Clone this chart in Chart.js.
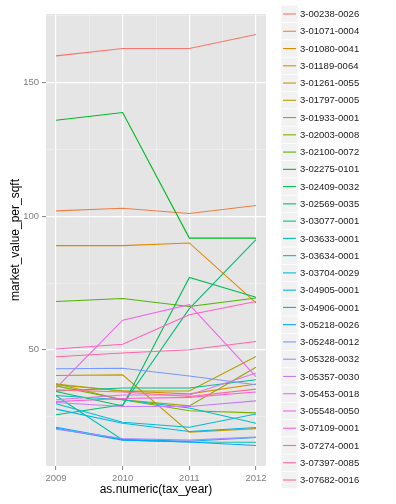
<!DOCTYPE html>
<html><head><meta charset="utf-8">
<script src="https://cdn.jsdelivr.net/npm/chart.js@4/dist/chart.umd.min.js"></script>
<style>html,body{margin:0;padding:0;background:#fff}canvas{display:block}</style>
</head><body>
<canvas id="c" width="396" height="504"></canvas>
<script>
'use strict';
const years = [2009, 2010, 2011, 2012];
const parcels = ['3-00238-0026','3-01071-0004','3-01080-0041','3-01189-0064','3-01261-0055','3-01797-0005',
  '3-01933-0001','3-02003-0008','3-02100-0072','3-02275-0101','3-02409-0032','3-02569-0035','3-03077-0001',
  '3-03633-0001','3-03634-0001','3-03704-0029','3-04905-0001','3-04906-0001','3-05218-0026','3-05248-0012',
  '3-05328-0032','3-05357-0030','3-05453-0018','3-05548-0050','3-07109-0001','3-07274-0001','3-07397-0085','3-07682-0016'];
// market value per sqft, one entry per parcel (same order as parcels)
const y2009 = [160, 102, 89, 36.9, 40.4, 37.2, 37.3, 36.5, 68.1, 135.9, 34.4, 25.7, 34.6, 32.8,
  32.9, 29.8, 27.8, 21.0, 20.6, 42.9, 20.3, 30.3, 31.3, 35.7, 30.6, 50.3, 47.4, 35.0];
const y2010 = [162.8, 103, 89, 34.6, 40.6, 34.6, 31.3, 31.3, 69.2, 138.8, 29.0, 29.4, 35.7, 16.3,
  31.3, 22.9, 22.5, 16.5, 16.2, 43.1, 16.8, 28.8, 33.1, 61.1, 31.8, 52.1, 48.8, 34.2];
const y2011 = [162.8, 101, 90, 33.5, 19.2, 34.6, 29.0, 27.2, 66.2, 91.8, 77.1, 65.4, 35.7, 15.5,
  28.2, 21.0, 19.4, 15.8, 15.5, 40.2, 16.2, 28.8, 33.1, 66.9, 32.2, 63.1, 50.0, 32.5];
const y2012 = [168, 104, 67.6, 37.2, 20.5, 47.5, 43.5, 26.4, 69.4, 91.8, 69.7, 91.2, 38.8, 15.4,
  22.5, 26.0, 20.9, 17.2, 14.2, 36.9, 17.3, 30.9, 41.3, 40.0, 34.2, 68.1, 53.1, 35.3];
const xTicks = [2009, 2010, 2011, 2012];
const yTicks = [50, 100, 150];
const legendTitle = 'bbl';

// ggplot2 default hue palette (hcl, c=100, l=65)
function hcl(h, c, l) {
  const WX = 95.047, WY = 100.0, WZ = 108.883;
  const un = 4*WX/(WX+15*WY+3*WZ), vn = 9*WY/(WX+15*WY+3*WZ);
  const hr = h*Math.PI/180, U = c*Math.cos(hr), V = c*Math.sin(hr);
  const Y = WY * (l > 8 ? Math.pow((l+16)/116, 3) : l/903.3);
  const u = U/(13*l) + un, v = V/(13*l) + vn;
  const X = 9*Y*u/(4*v), Z = -X/3 - 5*Y + 3*Y/v;
  const g = t => { t = t <= 0.0031308 ? 12.92*t : 1.055*Math.pow(t, 1/2.4) - 0.055; return Math.round(255*Math.max(0, Math.min(1, t))); };
  const r = g((3.240479*X - 1.537150*Y - 0.498535*Z)/WY);
  const gg = g((-0.969256*X + 1.875992*Y + 0.041556*Z)/WY);
  const b = g((0.055648*X - 0.204043*Y + 1.057311*Z)/WY);
  return '#' + [r, gg, b].map(n => n.toString(16).padStart(2, '0')).join('');
}
const n = parcels.length;
const colors = parcels.map((_, i) => hcl(15 + i*360/n, 100, 65));

const cols = [y2009, y2010, y2011, y2012];
const datasets = parcels.map((p, i) => ({
  label: p,
  data: years.map((yr, j) => ({x: yr, y: cols[j][i]})),
  borderColor: colors[i], backgroundColor: colors[i],
  borderWidth: 1.1, pointRadius: 0, tension: 0, fill: false, order: n - i
}));

const allVals = cols.flat();
const yMinD = Math.min(...allVals), yMaxD = Math.max(...allVals);
const yPad = (yMaxD - yMinD)*0.05, xPad = (years[years.length-1] - years[0])*0.05;

const FONT = '"Liberation Sans", Arial, sans-serif';
const isMajor = (v, list) => list.some(t => Math.abs(t - v) < 1e-6);

const ggExtras = {
  id: 'ggExtras',
  beforeDraw(chart) {
    const {ctx, chartArea: a} = chart;
    ctx.save(); ctx.fillStyle = '#E5E5E5';
    ctx.fillRect(a.left, a.top, a.right - a.left, a.bottom - a.top); ctx.restore();
  },
  afterDraw(chart) {
    const {ctx, chartArea: a} = chart;
    ctx.save();
    ctx.fillStyle = '#000';
    ctx.font = '12px ' + FONT;
    ctx.textAlign = 'center'; ctx.textBaseline = 'middle';
    ctx.fillText('as.numeric(tax_year)', (a.left + a.right)/2, 490);
    ctx.translate(16, (a.top + a.bottom)/2); ctx.rotate(-Math.PI/2);
    ctx.fillText('market_value_per_sqft', 0, 0);
    ctx.restore();

    // legend
    ctx.save();
    ctx.font = 'bold 12px ' + FONT; ctx.fillStyle = '#000';
    ctx.textAlign = 'left'; ctx.textBaseline = 'bottom';
    ctx.fillText(legendTitle, 281, 3);
    ctx.font = '9.5px ' + FONT; ctx.textBaseline = 'middle';
    parcels.forEach((p, i) => {
      const cy = 14 + i*17.26;
      ctx.fillStyle = '#F2F2F2'; ctx.fillRect(281, cy - 8.6, 17, 17.2);
      ctx.strokeStyle = '#FFFFFF'; ctx.lineWidth = 0.6; ctx.strokeRect(281, cy - 8.6, 17, 17.2);
      ctx.strokeStyle = colors[i]; ctx.lineWidth = 1.1;
      ctx.beginPath(); ctx.moveTo(283, cy); ctx.lineTo(296, cy); ctx.stroke();
      ctx.fillStyle = '#1A1A1A'; ctx.fillText(p, 300, cy + 0.5);
    });
    ctx.restore();
  }
};

new Chart(document.getElementById('c'), {
  type: 'line',
  data: {datasets},
  plugins: [ggExtras],
  options: {
    responsive: false, animation: false, devicePixelRatio: 1,
    layout: {padding: {left: 0, top: 14, right: 130, bottom: 0}},
    plugins: {legend: {display: false}, tooltip: {enabled: false}},
    scales: {
      x: {
        type: 'linear', min: years[0] - xPad, max: years[years.length-1] + xPad,
        afterBuildTicks: s => { s.ticks = [2009, 2009.5, 2010, 2010.5, 2011, 2011.5, 2012].map(v => ({value: v})); },
        afterFit: s => { s.height = 38; },
        border: {display: false},
        grid: {
          color: c => isMajor(c.tick.value, xTicks) ? '#FFFFFF' : '#F2F2F2',
          lineWidth: c => isMajor(c.tick.value, xTicks) ? 1.2 : 0.6,
          tickColor: c => isMajor(c.tick.value, xTicks) ? '#7F7F7F' : 'rgba(0,0,0,0)',
          tickLength: 4, tickWidth: 1
        },
        ticks: {
          autoSkip: false, maxRotation: 0, padding: 3, color: '#7F7F7F',
          font: {family: FONT, size: 9.5},
          callback: v => isMajor(v, xTicks) ? String(v) : ''
        }
      },
      y: {
        type: 'linear', min: yMinD - yPad, max: yMaxD + yPad,
        afterBuildTicks: s => { s.ticks = [25, 50, 75, 100, 125, 150, 175].map(v => ({value: v})); },
        afterFit: s => { s.width = 46; },
        border: {display: false},
        grid: {
          color: c => isMajor(c.tick.value, yTicks) ? '#FFFFFF' : '#F2F2F2',
          lineWidth: c => isMajor(c.tick.value, yTicks) ? 1.2 : 0.6,
          tickColor: c => isMajor(c.tick.value, yTicks) ? '#7F7F7F' : 'rgba(0,0,0,0)',
          tickLength: 4, tickWidth: 1
        },
        ticks: {
          autoSkip: false, padding: 3, color: '#7F7F7F',
          font: {family: FONT, size: 9.5},
          callback: v => isMajor(v, yTicks) ? String(v) : ''
        }
      }
    }
  }
});
</script>
</body></html>
